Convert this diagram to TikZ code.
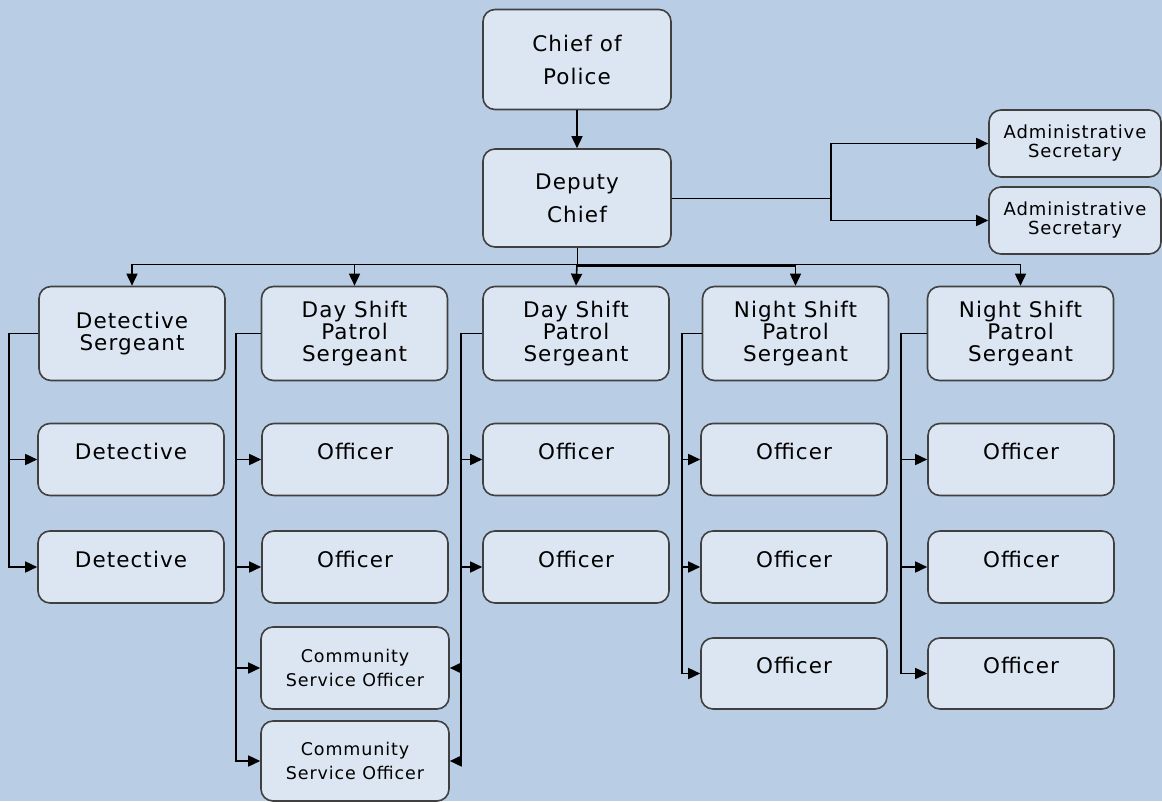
\documentclass[tikz,border=0pt]{standalone}
\usepackage{fontspec}
\setmainfont{DejaVu Sans}[LetterSpace=5]
\usetikzlibrary{arrows.meta}

\definecolor{fundo}{HTML}{B9CDE5}
\definecolor{preenchimento}{HTML}{DCE6F2}
\definecolor{borda}{HTML}{404040}

\begin{document}
\begin{tikzpicture}[
  x=1pt, y=-1pt,
  every node/.style={draw=borda, fill=preenchimento, rounded corners=12pt, line width=1.6pt,
    inner sep=0pt, align=center},
  seta/.style={-{Triangle[length=12pt,width=11pt]}, line width=1.6pt}
]
\tikzset{
  principal/.style={minimum width=188pt, minimum height=100pt, font=\fontsize{21.5}{33}\selectfont},
  sargento/.style={minimum width=186pt, minimum height=94pt, font=\fontsize{21.5}{22}\selectfont},
  agente/.style={minimum width=186pt, minimum height=72pt, text height=6pt, text depth=6pt,
    font=\fontsize{21.5}{22}\selectfont},
  comunitario/.style={minimum width=188pt, font=\fontsize{17.5}{24}\selectfont},
  secretaria/.style={minimum width=172pt, minimum height=67pt, font=\fontsize{18}{19}\selectfont}
}
\fill[fundo] (0,0) rectangle (1162,801);

% chefia
\node[principal] (chefe) at (577,59.5) {Chief of\\Police};
\node[principal, minimum height=98pt] (vice) at (577,198) {Deputy\\Chief};
\node[secretaria] (sec1) at (1075,143.5) {Administrative\\Secretary};
\node[secretaria] (sec2) at (1075,220.5) {Administrative\\Secretary};

% sargentos
\node[sargento] (ds) at (132,333.5) {Detective\\Sergeant};
\node[sargento] (dia1) at (354.5,333.5) {Day Shift\\Patrol\\Sergeant};
\node[sargento] (dia2) at (576,333.5) {Day Shift\\Patrol\\Sergeant};
\node[sargento] (noite1) at (795.5,333.5) {Night Shift\\Patrol\\Sergeant};
\node[sargento] (noite2) at (1020.5,333.5) {Night Shift\\Patrol\\Sergeant};

% detetives e agentes
\node[agente] (det1) at (131,459.5) {Detective};
\node[agente] (det2) at (131,567) {Detective};
\node[agente] (of11) at (355,459.5) {Officer};
\node[agente] (of12) at (355,567) {Officer};
\node[comunitario, minimum height=82pt] (csa1) at (355,668) {Community\\Service Officer};
\node[comunitario, minimum height=80pt] (csa2) at (355,761) {Community\\Service Officer};
\node[agente] (of21) at (576,459.5) {Officer};
\node[agente] (of22) at (576,567) {Officer};
\node[agente] (of31) at (794,459.5) {Officer};
\node[agente] (of32) at (794,567) {Officer};
\node[agente, minimum height=71pt] (of33) at (794,673.5) {Officer};
\node[agente] (of41) at (1021,459.5) {Officer};
\node[agente] (of42) at (1021,567) {Officer};
\node[agente, minimum height=71pt] (of43) at (1021,673.5) {Officer};

% ligacoes de cima
\draw[seta] (chefe) -- (vice);
\coordinate (barra) at (577,264.5);
\coordinate (barra2) at (577,266);
\draw (vice) -- (barra2);
\draw[seta] (barra) -| (ds.north);
\draw[seta] (barra) -| (dia1.north);
\draw[seta] (barra) -- (dia2.north);
\draw[seta] (barra2) -| (noite1.north);
\draw[seta] (barra) -| (noite2.north);
\coordinate (ramo) at (831,198);
\draw (vice.east) -- (ramo);
\draw[seta] (ramo) |- (sec1.west);
\draw[seta] (ramo) |- (sec2.west);

% ligacoes dos sargentos
\coordinate (vds) at (9,333.5);
\draw (ds.west) -- (vds);
\draw[seta] (vds) |- (det1.west);
\draw[seta] (vds) |- (det2.west);
\coordinate (vd1) at (236,333.5);
\draw (dia1.west) -- (vd1);
\draw[seta] (vd1) |- (of11.west);
\draw[seta] (vd1) |- (of12.west);
\draw[seta] (vd1) |- (csa1.west);
\draw[seta] (vd1) |- (csa2.west);
\coordinate (vd2) at (461,333.5);
\draw (dia2.west) -- (vd2);
\draw[seta] (vd2) |- (of21.west);
\draw[seta] (vd2) |- (of22.west);
\draw[seta] (vd2) |- (csa1.east); % volta para a esquerda
\draw[seta] (vd2) |- (csa2.east);
\coordinate (vn1) at (682,333.5);
\draw (noite1.west) -- (vn1);
\draw[seta] (vn1) |- (of31.west);
\draw[seta] (vn1) |- (of32.west);
\draw[seta] (vn1) |- (of33.west);
\coordinate (vn2) at (901,333.5);
\draw (noite2.west) -- (vn2);
\draw[seta] (vn2) |- (of41.west);
\draw[seta] (vn2) |- (of42.west);
\draw[seta] (vn2) |- (of43.west);

\useasboundingbox (0,0) rectangle (1162,801);
\end{tikzpicture}
\end{document}
